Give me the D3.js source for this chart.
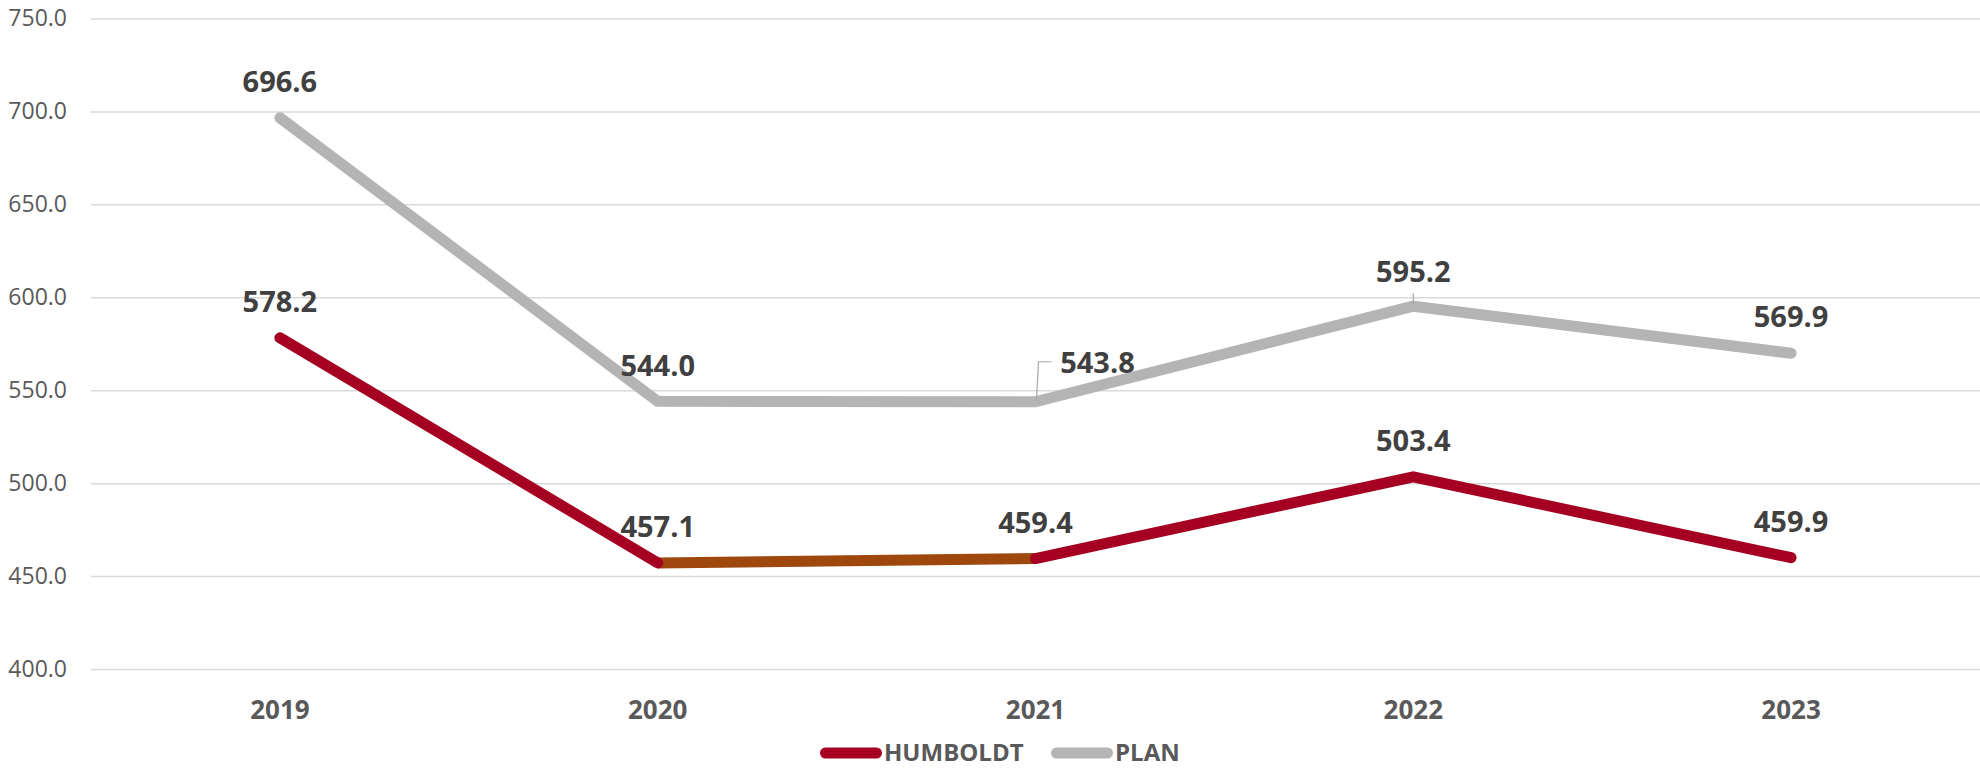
<!DOCTYPE html>
<html>
<head>
<meta charset="utf-8">
<script src="https://cdn.jsdelivr.net/npm/d3@7/dist/d3.min.js"></script>
<style>
  html, body { margin: 0; padding: 0; background: #fff; }
  svg { display: block; }
</style>
</head>
<body>
<svg id="chart" width="1980" height="769"></svg>
<script>
const years = ["2019", "2020", "2021", "2022", "2023"];
const humboldt = [578.2, 457.1, 459.4, 503.4, 459.9];
const plan = [696.6, 544.0, 543.8, 595.2, 569.9];
const yTicks = [400, 450, 500, 550, 600, 650, 700, 750];
const seriesNames = ["HUMBOLDT", "PLAN"];

const svg = d3.select("#chart");

const x = d3.scaleBand().domain(years).range([91, 1980]);
const cx = d => x(d) + x.bandwidth() / 2;
const y = d3.scaleLinear().domain([400, 750]).range([669, 18.5]);

// gridlines + y labels
const yAxis = d3.axisLeft(y).tickValues(yTicks).tickFormat(d3.format(".1f"))
  .tickSize(-(1980 - 91)).tickPadding(24);
const gy = svg.append("g").attr("transform", "translate(91,0)").call(yAxis);
gy.select(".domain").remove();
gy.selectAll(".tick line").attr("stroke", "#d9d9d9").attr("stroke-width", 1.5);
gy.selectAll(".tick text")
  .attr("fill", "#595959")
  .style("font-family", "'Open Sans', sans-serif")
  .style("font-size", "23px");

// x axis labels
const xAxis = d3.axisBottom(x).tickSize(0).tickPadding(32);
const gx = svg.append("g").attr("transform", "translate(0,669)").call(xAxis);
gx.select(".domain").remove();
gx.selectAll(".tick text")
  .attr("fill", "#595959")
  .style("font-family", "'Open Sans', sans-serif")
  .style("font-weight", "bold")
  .style("font-size", "26px");

const line = d3.line().x(d => cx(d.year)).y(d => y(d.v));
const toPts = (arr) => arr.map((v, i) => ({year: years[i], v}));
const hPts = toPts(humboldt);
const pPts = toPts(plan);

// PLAN line
svg.append("path").datum(pPts).attr("d", line)
  .attr("fill", "none").attr("stroke", "#b4b4b4").attr("stroke-width", 11)
  .attr("stroke-linecap", "round").attr("stroke-linejoin", "round");

// HUMBOLDT: brown segment 2020-2021, red elsewhere
svg.append("path").datum(hPts.slice(1, 3)).attr("d", line)
  .attr("fill", "none").attr("stroke", "#9e480e").attr("stroke-width", 11)
  .attr("stroke-linecap", "butt");
[hPts.slice(0, 2), hPts.slice(2)].forEach(seg => {
  svg.append("path").datum(seg).attr("d", line)
    .attr("fill", "none").attr("stroke", "#a50021").attr("stroke-width", 11)
    .attr("stroke-linecap", "round").attr("stroke-linejoin", "round");
});

// leader lines
svg.append("path")
  .attr("d", `M${cx("2021") + 1},${y(plan[2]) - 1} L${cx("2021") + 3},${y(plan[2]) - 40} L${cx("2021") + 16},${y(plan[2]) - 40}`)
  .attr("fill", "none").attr("stroke", "#a6a6a6").attr("stroke-width", 1.2);
svg.append("line")
  .attr("x1", cx("2022")).attr("x2", cx("2022"))
  .attr("y1", y(plan[3]) - 1).attr("y2", y(plan[3]) - 13)
  .attr("stroke", "#a6a6a6").attr("stroke-width", 1.2);

// data labels
const labelStyle = sel => sel
  .attr("fill", "#404040")
  .attr("text-anchor", "middle")
  .style("font-family", "'Open Sans', sans-serif")
  .style("font-weight", "bold")
  .style("font-size", "29px");

const hOffsets = [[0, -26], [0, -26], [0, -26], [0, -26], [0, -26]];
const pOffsets = [[0, -26], [0, -25], [62, -29], [0, -24], [0, -26]];

svg.append("g").selectAll("text").data(hPts).join("text")
  .attr("x", (d, i) => cx(d.year) + hOffsets[i][0])
  .attr("y", (d, i) => y(d.v) + hOffsets[i][1])
  .text(d => d3.format(".1f")(d.v)).call(labelStyle);
svg.append("g").selectAll("text").data(pPts).join("text")
  .attr("x", (d, i) => cx(d.year) + pOffsets[i][0])
  .attr("y", (d, i) => y(d.v) + pOffsets[i][1])
  .text(d => d3.format(".1f")(d.v)).call(labelStyle);

// legend
const legendColors = ["#a50021", "#b4b4b4"];
const legendX = [820, 1051];
const lg = svg.append("g");
seriesNames.forEach((name, i) => {
  lg.append("line")
    .attr("x1", legendX[i] + 5.5).attr("x2", legendX[i] + 56.5)
    .attr("y1", 753).attr("y2", 753)
    .attr("stroke", legendColors[i]).attr("stroke-width", 11)
    .attr("stroke-linecap", "round");
  lg.append("text")
    .attr("x", legendX[i] + 64).attr("y", 761)
    .attr("fill", "#595959")
    .style("font-family", "'Open Sans', sans-serif")
    .style("font-weight", "bold")
    .style("font-size", "24px")
    .text(name);
});
</script>
</body>
</html>
